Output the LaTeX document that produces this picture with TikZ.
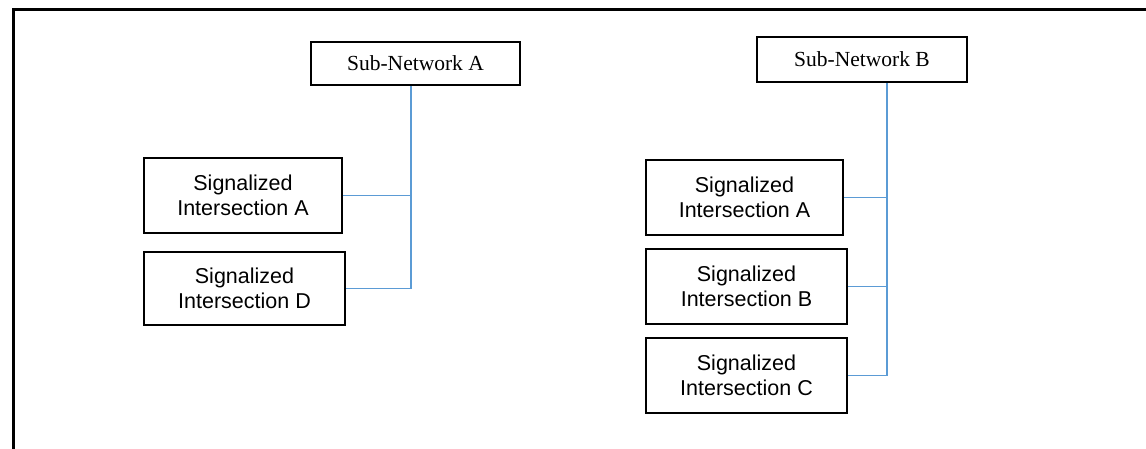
\documentclass[tikz,border=0pt]{standalone}
\usepackage{fontspec}
\setmainfont{Liberation Serif}
\newfontfamily\arialfont{Liberation Sans}
\definecolor{linkblue}{RGB}{91,155,213}
\begin{document}
\begin{tikzpicture}[x=1pt,y=-1pt,
  topbox/.style={draw=black,line width=2.5pt,fill=white,inner sep=0pt,
    font=\fontsize{21.5}{24}\selectfont},
  sigbox/.style={draw=black,line width=2.5pt,fill=white,inner sep=0pt,align=center,
    font=\arialfont\fontsize{21.5}{25}\selectfont},
  link/.style={draw=linkblue,line width=1.2pt}]
\useasboundingbox (0,0) rectangle (1146,449);
\draw[line width=3pt] (13,449) -- (13,10) -- (1146,10);
% left group
\node[topbox,minimum width=209pt,minimum height=43pt] (subA) at (415.5,63.5) {Sub-Network A};
\node[sigbox,minimum width=198pt,minimum height=75pt] (aA) at (243,195.5) {Signalized\\Intersection A};
\node[sigbox,minimum width=201pt,minimum height=73pt] (aD) at (244.5,288.5) {Signalized\\Intersection D};
\coordinate (ta) at (411,288.5);
\draw[link] (subA.south -| ta) -- (ta);
\draw[link] (aA.east) -- (aA.east -| ta);
\draw[link] (aD.east) -- (ta);
% right group
\node[topbox,minimum width=210pt,minimum height=45pt] (subB) at (862,59.5) {Sub-Network B};
\node[sigbox,minimum width=197pt,minimum height=75pt] (bA) at (744.5,197.5) {Signalized\\Intersection A};
\node[sigbox,minimum width=201pt,minimum height=75pt] (bB) at (746.5,286.5) {Signalized\\Intersection B};
\node[sigbox,minimum width=201pt,minimum height=75pt] (bC) at (746.5,375.5) {Signalized\\Intersection C};
\coordinate (tb) at (887,375.5);
\draw[link] (subB.south -| tb) -- (tb);
\draw[link] (bA.east) -- (bA.east -| tb);
\draw[link] (bB.east) -- (bB.east -| tb);
\draw[link] (bC.east) -- (tb);
\end{tikzpicture}
\end{document}
